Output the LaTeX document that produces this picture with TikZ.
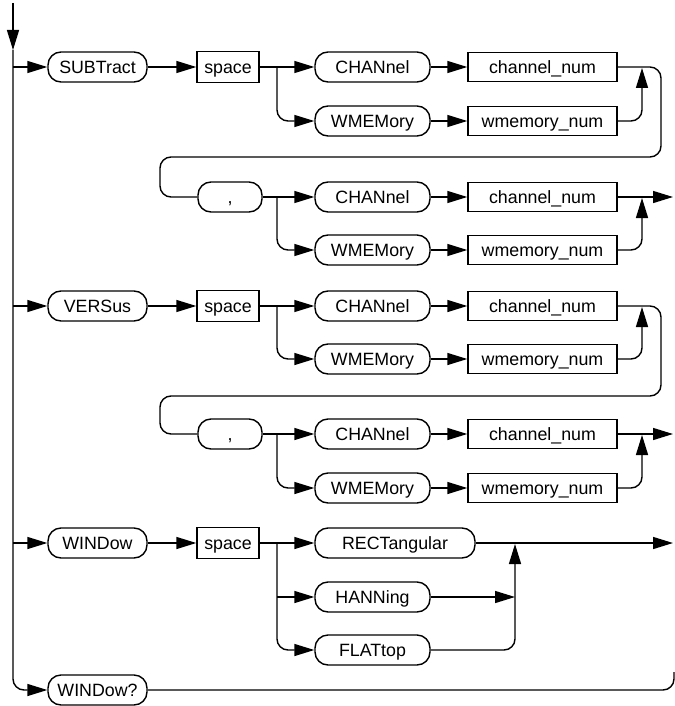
\documentclass[tikz,border=0pt]{standalone}
\usepackage{fontspec}
\setmainfont{Liberation Sans}
\usetikzlibrary{arrows.meta}
\begin{document}
\begin{tikzpicture}[x=1pt,y=-1pt,
  every node/.style={font=\fontsize{17.8}{20}\selectfont, inner sep=0pt,
    text height=14pt, text depth=1.5pt},
  kw/.style={draw, line width=1.4pt, rounded corners=13pt, minimum height=30pt},
  cmd/.style={kw, minimum width=99pt},
  opt/.style={kw, minimum width=115pt},
  arg/.style={draw, line width=1.4pt, minimum height=29pt},
  num/.style={arg, minimum width=149pt},
  sp/.style={arg, minimum width=62pt, minimum height=31pt},
  link/.style={line width=1.4pt},
  flow/.style={link, rounded corners=11pt},
  arr/.style={-{Triangle[length=20pt,width=12pt]}}]
\useasboundingbox (0,0) rectangle (674,706);

% main entry line
\draw[flow,arr] (13,3) -- (13,50);

% ---- SUBTract ----
\node[cmd] (subt) at (97.5,67) {SUBTract};
\node[sp] (sp1) at (228,67) {space};
\node[opt] (ch1) at (372.5,67) {CHANnel};
\node[opt] (wm1) at (372.5,121) {WMEMory};
\node[num] (cn1) at (542.5,67) {channel\_num};
\node[num] (wn1) at (542.5,121) {wmemory\_num};
\node[kw, minimum width=64pt] (cm1) at (230,197) {,};
\node[opt] (ch2) at (372.5,197) {CHANnel};
\node[opt] (wm2) at (372.5,250) {WMEMory};
\node[num] (cn2) at (542.5,197) {channel\_num};
\node[num] (wn2) at (542.5,250) {wmemory\_num};

% ---- VERSus ----
\node[cmd] (vers) at (97.5,306) {VERSus};
\node[sp] (sp2) at (228,306) {space};
\node[opt] (ch3) at (372.5,306) {CHANnel};
\node[opt] (wm3) at (372.5,359) {WMEMory};
\node[num] (cn3) at (542.5,306) {channel\_num};
\node[num] (wn3) at (542.5,359) {wmemory\_num};
\node[kw, minimum width=64pt] (cm2) at (230,434) {,};
\node[opt] (ch4) at (372.5,434) {CHANnel};
\node[opt] (wm4) at (372.5,488) {WMEMory};
\node[num] (cn4) at (542.5,434) {channel\_num};
\node[num] (wn4) at (542.5,488) {wmemory\_num};

% ---- WINDow ----
\node[cmd] (wind) at (97.5,543) {WINDow};
\node[sp] (sp3) at (228,543) {space};
\node[kw, minimum width=160pt] (rect) at (395,543) {RECTangular};
\node[opt] (hann) at (372.5,597) {HANNing};
\node[opt] (flat) at (372.5,650) {FLATtop};

% ---- WINDow? ----
\node[cmd] (wq) at (97.5,690) {WINDow?};

% main trunk and its branches
\draw[flow,arr] (13,50) |- (wq.west);
\draw[link,arr] (13,67) -- (subt.west);
\draw[link,arr] (13,306) -- (vers.west);
\draw[link,arr] (13,543) -- (wind.west);

% SUBTract chain
\draw[link,arr] (subt.east) -- (sp1.west);
\draw[link,arr] (sp1.east) -- (ch1.west);
\draw[flow,arr] (277,67) |- (wm1.west);
\draw[link,arr] (ch1.east) -- (cn1.west);
\draw[link,arr] (wm1.east) -- (wn1.west);
\draw[flow,arr] (wn1.east) -| (642,68);
\draw[flow] (cn1.east) -- (661,67) -- (661,157) -- (160,157) -- (160,197) -- (cm1.west);
\draw[link,arr] (cm1.east) -- (ch2.west);
\draw[flow,arr] (277,197) |- (wm2.west);
\draw[link,arr] (ch2.east) -- (cn2.west);
\draw[link,arr] (wm2.east) -- (wn2.west);
\draw[flow,arr] (wn2.east) -| (642,198);
\draw[link,arr] (cn2.east) -- (673,197);

% VERSus chain
\draw[link,arr] (vers.east) -- (sp2.west);
\draw[link,arr] (sp2.east) -- (ch3.west);
\draw[flow,arr] (277,306) |- (wm3.west);
\draw[link,arr] (ch3.east) -- (cn3.west);
\draw[link,arr] (wm3.east) -- (wn3.west);
\draw[flow,arr] (wn3.east) -| (642,307);
\draw[flow] (cn3.east) -- (661,306) -- (661,396) -- (160,396) -- (160,434) -- (cm2.west);
\draw[link,arr] (cm2.east) -- (ch4.west);
\draw[flow,arr] (277,434) |- (wm4.west);
\draw[link,arr] (ch4.east) -- (cn4.west);
\draw[link,arr] (wm4.east) -- (wn4.west);
\draw[flow,arr] (wn4.east) -| (642,435);
\draw[link,arr] (cn4.east) -- (673,434);

% WINDow chain
\draw[link,arr] (wind.east) -- (sp3.west);
\draw[link,arr] (sp3.east) -- (rect.west);
\draw[link,arr] (277,597) -- (hann.west);
\draw[flow,arr] (277,543) |- (flat.west);
\draw[link,arr] (hann.east) -- (515,597);
\draw[flow,arr] (flat.east) -| (515,544);
\draw[link,arr] (rect.east) -- (673,543);

% WINDow? exit
\draw[flow] (wq.east) -| (674,672);
\end{tikzpicture}
\end{document}
